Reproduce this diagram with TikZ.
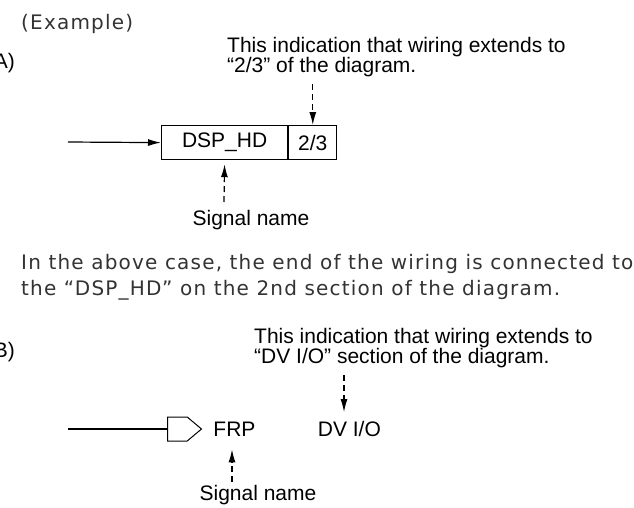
\documentclass[tikz,border=0pt]{standalone}
\usepackage{fontspec}
\usepackage{tikz}
\usetikzlibrary{arrows.meta,positioning,shapes.symbols}

\newfontfamily\labelfont{Liberation Sans}
\newfontfamily\bodyfont{DejaVu Sans}[LetterSpace=6]

\begin{document}
\begin{tikzpicture}[x=1pt, y=-1pt, >={Latex[length=13pt,width=7pt]},
    label/.style={inner sep=0pt, font=\labelfont\fontsize{21}{20}\selectfont, align=left},
    body/.style={inner sep=0pt, font=\bodyfont\fontsize{20}{26}\selectfont, align=left, text=black!80},
    sigbox/.style={draw, line width=1.2pt, inner sep=0pt, minimum height=34pt, font=\labelfont\fontsize{21}{21}\selectfont},
    pent/.style={draw, line width=1pt, signal, signal to=east, signal pointer angle=80,
        minimum width=34pt, minimum height=24pt, inner sep=0pt},
    wire/.style={line width=1.2pt},
    hint/.style={line width=1.2pt, dash pattern=on 6pt off 4pt}]
    \useasboundingbox (0,0) rectangle (634,507);

    % case A
    \node[body, anchor=base west] (EX) at (21,29) {(Example)};
    \node[label, anchor=base east] (A) at (15,68) {A)};
    \node[label, anchor=north west] (NA) at (227,37) {This indication that wiring extends to\\“2/3” of the diagram.};
    \node[sigbox, minimum width=126pt, anchor=north west] (DSP) at (161,125) {DSP\_HD};
    \node[sigbox, minimum width=48pt, right=0pt of DSP] (PAGE) {2/3};
    \node[label, anchor=north] (SA) at (251,210) {Signal name};
    \coordinate (INA) at (68,142);
    \coordinate (TA) at ([yshift=41pt]PAGE.north);
    \coordinate (UA) at (224,202);

    \path[->, wire] (INA) edge (DSP.west);
    \path[->, hint]
        (TA) edge (PAGE.north)
        (UA) edge ([yshift=-4pt]DSP.south);

    \node[body, anchor=north west] (TXT) at (21,254) {In the above case, the end of the wiring is connected to\\the “DSP\_HD” on the 2nd section of the diagram.};

    % case B
    \node[label, anchor=base east] (B) at (15,357) {B)};
    \node[label, anchor=north west] (NB) at (254,328) {This indication that wiring extends to\\“DV I/O” section of the diagram.};
    \node[pent, anchor=west] (PENT) at (167,429) {};
    \node[label, right=11pt of PENT] (FRP) {FRP};
    \node[label, right=62pt of FRP] (DVIO) {DV I/O};
    \node[label, anchor=north] (SB) at (258,485) {Signal name};
    \coordinate (INB) at (68,429);
    \coordinate (TB) at (344,375);
    \coordinate (UB) at (232,482);

    \draw[wire] (INB) -- (PENT.west);
    \path[->, hint]
        (TB) edge ([yshift=9pt]TB |- DVIO.north)
        (UB) edge ([yshift=-13pt]UB |- FRP.south);
\end{tikzpicture}
\end{document}
